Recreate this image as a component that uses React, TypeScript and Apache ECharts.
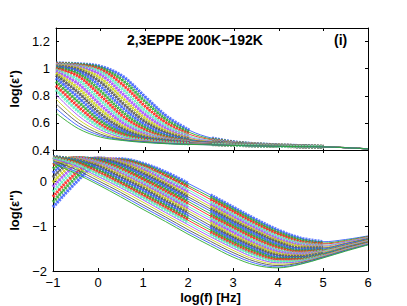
import React, { useEffect, useRef } from 'react';
import * as echarts from 'echarts';

// log10 frequency grid [Hz]
const LOG_F = [-1, -0.5, 0, 0.5, 1, 1.5, 2, 2.5, 3, 3.5, 4, 4.5, 5, 5.5, 6];

// log(eps') read per frequency (one column per LOG_F entry), 23 temperatures 200K -> 192K
const EPS1_COLS = [
  [1.040, 1.038, 1.034, 1.030, 1.027, 1.023, 1.018, 1.013, 1.007, 1.000, 0.991, 0.981, 0.968, 0.953, 0.931, 0.905, 0.875, 0.844, 0.810, 0.776, 0.741, 0.707, 0.673],
  [1.035, 1.031, 1.025, 1.020, 1.012, 1.004, 0.993, 0.981, 0.965, 0.944, 0.917, 0.888, 0.856, 0.823, 0.788, 0.754, 0.719, 0.686, 0.653, 0.626, 0.601, 0.578, 0.558],
  [1.016, 1.006, 0.993, 0.978, 0.956, 0.930, 0.900, 0.869, 0.835, 0.801, 0.766, 0.732, 0.698, 0.666, 0.637, 0.612, 0.588, 0.567, 0.548, 0.532, 0.517, 0.506, 0.495],
  [0.942, 0.913, 0.881, 0.848, 0.813, 0.779, 0.744, 0.711, 0.678, 0.649, 0.622, 0.598, 0.576, 0.556, 0.539, 0.524, 0.511, 0.500, 0.490, 0.482, 0.477, 0.473, 0.470],
  [0.791, 0.757, 0.723, 0.691, 0.661, 0.633, 0.608, 0.585, 0.565, 0.547, 0.531, 0.517, 0.505, 0.494, 0.486, 0.480, 0.475, 0.471, 0.469, 0.465, 0.461, 0.458, 0.455],
  [0.644, 0.618, 0.594, 0.573, 0.554, 0.537, 0.523, 0.510, 0.498, 0.489, 0.482, 0.476, 0.472, 0.469, 0.465, 0.461, 0.458, 0.455, 0.453, 0.451, 0.449, 0.448, 0.446],
  [0.544, 0.529, 0.515, 0.503, 0.492, 0.485, 0.478, 0.473, 0.469, 0.465, 0.461, 0.458, 0.455, 0.453, 0.451, 0.449, 0.448, 0.446, 0.445, 0.444, 0.443, 0.442, 0.441],
  [0.487, 0.480, 0.474, 0.469, 0.465, 0.461, 0.458, 0.455, 0.453, 0.451, 0.449, 0.448, 0.446, 0.445, 0.444, 0.443, 0.442, 0.441, 0.440, 0.439, 0.439, 0.438, 0.438],
  [0.459, 0.456, 0.453, 0.451, 0.449, 0.447, 0.446, 0.444, 0.443, 0.442, 0.441, 0.440, 0.439, 0.438, 0.437, 0.437, 0.436, 0.436, 0.435, 0.435, 0.434, 0.434, 0.433],
  [0.445, 0.444, 0.442, 0.441, 0.440, 0.439, 0.438, 0.437, 0.436, 0.435, 0.435, 0.434, 0.434, 0.433, 0.433, 0.432, 0.432, 0.431, 0.431, 0.431, 0.431, 0.430, 0.430],
  [0.437, 0.436, 0.435, 0.434, 0.433, 0.433, 0.432, 0.432, 0.431, 0.431, 0.430, 0.430, 0.429, 0.429, 0.429, 0.429, 0.428, 0.428, 0.428, 0.428, 0.428, 0.427, 0.427],
  [0.431, 0.430, 0.430, 0.429, 0.429, 0.428, 0.428, 0.427, 0.427, 0.427, 0.427, 0.426, 0.426, 0.426, 0.426, 0.426, 0.425, 0.425, 0.425, 0.425, 0.425, 0.425, 0.425],
  [0.426, 0.426, 0.425, 0.425, 0.425, 0.425, 0.424, 0.424, 0.424, 0.424, 0.424, 0.423, 0.423, 0.423, 0.423, 0.423, 0.423, 0.423, 0.423, 0.423, 0.423, 0.423, 0.423],
  [0.418, 0.418, 0.418, 0.418, 0.418, 0.418, 0.417, 0.417, 0.417, 0.417, 0.417, 0.417, 0.417, 0.417, 0.417, 0.417, 0.417, 0.417, 0.417, 0.417, 0.417, 0.417, 0.417],
  [0.409, 0.409, 0.409, 0.409, 0.409, 0.409, 0.409, 0.409, 0.408, 0.408, 0.408, 0.408, 0.408, 0.408, 0.408, 0.408, 0.408, 0.408, 0.408, 0.408, 0.408, 0.408, 0.408],
];

// log(eps'') read per frequency (one column per LOG_F entry)
const EPS2_COLS = [
  [-0.58, -0.47, -0.35, -0.24, -0.13, -0.03, 0.08, 0.18, 0.27, 0.36, 0.43, 0.49, 0.53, 0.54, 0.54, 0.53, 0.52, 0.51, 0.49, 0.47, 0.45, 0.42, 0.39],
  [-0.04, 0.07, 0.17, 0.26, 0.35, 0.42, 0.47, 0.51, 0.52, 0.52, 0.51, 0.50, 0.49, 0.47, 0.46, 0.44, 0.41, 0.38, 0.34, 0.30, 0.26, 0.21, 0.17],
  [0.40, 0.46, 0.50, 0.51, 0.51, 0.50, 0.49, 0.48, 0.46, 0.44, 0.42, 0.39, 0.36, 0.33, 0.29, 0.25, 0.20, 0.15, 0.10, 0.06, 0.01, -0.04, -0.08],
  [0.49, 0.47, 0.46, 0.44, 0.43, 0.41, 0.38, 0.35, 0.31, 0.27, 0.23, 0.18, 0.14, 0.09, 0.04, -0.01, -0.05, -0.10, -0.15, -0.20, -0.25, -0.30, -0.35],
  [0.39, 0.36, 0.33, 0.30, 0.26, 0.22, 0.17, 0.12, 0.07, 0.03, -0.02, -0.07, -0.11, -0.16, -0.21, -0.27, -0.32, -0.37, -0.42, -0.47, -0.53, -0.58, -0.63],
  [0.20, 0.15, 0.11, 0.06, 0.01, -0.04, -0.08, -0.13, -0.18, -0.23, -0.28, -0.33, -0.38, -0.44, -0.49, -0.54, -0.59, -0.64, -0.70, -0.75, -0.80, -0.85, -0.90],
  [-0.05, -0.10, -0.14, -0.19, -0.24, -0.30, -0.35, -0.40, -0.45, -0.50, -0.56, -0.61, -0.66, -0.71, -0.76, -0.82, -0.87, -0.92, -0.97, -1.02, -1.08, -1.13, -1.18],
  [-0.31, -0.36, -0.41, -0.47, -0.52, -0.57, -0.62, -0.67, -0.73, -0.78, -0.83, -0.88, -0.93, -0.99, -1.04, -1.09, -1.14, -1.19, -1.24, -1.29, -1.34, -1.39, -1.44],
  [-0.58, -0.63, -0.68, -0.74, -0.79, -0.84, -0.89, -0.94, -0.99, -1.04, -1.09, -1.14, -1.20, -1.25, -1.30, -1.35, -1.40, -1.44, -1.49, -1.54, -1.59, -1.64, -1.69],
  [-0.85, -0.90, -0.95, -1.00, -1.05, -1.10, -1.14, -1.19, -1.24, -1.29, -1.34, -1.39, -1.43, -1.48, -1.53, -1.57, -1.62, -1.66, -1.71, -1.75, -1.79, -1.83, -1.87],
  [-1.09, -1.14, -1.18, -1.23, -1.28, -1.32, -1.36, -1.41, -1.45, -1.49, -1.53, -1.57, -1.61, -1.65, -1.69, -1.72, -1.75, -1.79, -1.82, -1.85, -1.88, -1.91, -1.93],
  [-1.27, -1.31, -1.35, -1.38, -1.42, -1.45, -1.49, -1.52, -1.55, -1.58, -1.61, -1.63, -1.66, -1.68, -1.71, -1.73, -1.75, -1.77, -1.79, -1.81, -1.82, -1.84, -1.85],
  [-1.35, -1.38, -1.40, -1.43, -1.45, -1.47, -1.49, -1.51, -1.53, -1.55, -1.56, -1.58, -1.59, -1.61, -1.62, -1.63, -1.65, -1.66, -1.67, -1.68, -1.69, -1.70, -1.71],
  [-1.30, -1.32, -1.34, -1.35, -1.36, -1.38, -1.39, -1.40, -1.42, -1.43, -1.44, -1.45, -1.46, -1.47, -1.48, -1.49, -1.50, -1.51, -1.52, -1.53, -1.54, -1.55, -1.56],
  [-1.22, -1.23, -1.24, -1.25, -1.26, -1.27, -1.28, -1.29, -1.30, -1.31, -1.32, -1.33, -1.34, -1.35, -1.36, -1.36, -1.37, -1.38, -1.39, -1.40, -1.41, -1.41, -1.42],
];

const COLORS = ['#3a5cff', '#2eaa2e', '#ff2020', '#5ff0c0', '#a64cff', '#c8d21e', '#555555'];
const N_CURVES = 23;
const N_MARKED = 18; // curves that carry measured points (the rest are fit lines only)
const DATA_RANGES = [[-1, 2], [2.5, 5]];

const TITLE = '2,3EPPE 200K\u2212192K';
const PANEL_TAG = '(i)';

export default function App() {
  const ref = useRef<HTMLDivElement>(null);

  useEffect(() => {
    if (!ref.current) return;
    const chart = echarts.init(ref.current, null, { renderer: 'svg' });
    const font = 'Liberation Sans, Arial, Helvetica, sans-serif';

    const pts = (cols: number[][], i: number, lo: number, hi: number) =>
      LOG_F.map((x, k) => [x, cols[k][i]]).filter((p) => p[0] >= lo && p[0] <= hi);

    const series: any[] = [];
    for (let i = 0; i < N_CURVES; i++) {
      const color = COLORS[i % COLORS.length];
      const panels: [number[][], number][] = [
        [EPS1_COLS, 0],
        [EPS2_COLS, 1],
      ];
      panels.forEach(([cols, g]) => {
        if (i < N_MARKED) {
          DATA_RANGES.forEach(([lo, hi]) => {
            series.push({
              type: 'line',
              xAxisIndex: g * 2,
              yAxisIndex: g * 2,
              data: pts(cols, i, lo, hi),
              smooth: 0.35,
              symbol: 'none',
              silent: true,
              lineStyle: { color, width: 3.5, opacity: 0.8, type: [2, 1] },
            });
          });
        }
        series.push({
          type: 'line',
          xAxisIndex: g * 2,
          yAxisIndex: g * 2,
          data: pts(cols, i, -1, 6),
          smooth: 0.35,
          symbol: 'none',
          silent: true,
          lineStyle: { color, width: 0.9 },
        });
      });
    }

    const fmt = (v: number) => String(v).replace('-', '\u2212');
    const axisLine = { show: true, onZero: false, lineStyle: { color: '#000', width: 1 } };
    const tick = { show: true, inside: true, length: 3, lineStyle: { color: '#000', width: 1 } };
    const xBase = {
      type: 'value',
      min: -1,
      max: 6,
      interval: 1,
      splitLine: { show: false },
      axisLine,
      axisTick: tick,
    };
    const label = { color: '#000', fontFamily: font, fontSize: 13 };
    const yName = { color: '#000', fontFamily: font, fontSize: 13, fontWeight: 'bold' };

    chart.setOption({
      animation: false,
      backgroundColor: '#fff',
      grid: [
        { left: 53, right: 39, top: 28, height: 122 },
        { left: 53, right: 39, top: 150, height: 121 },
      ],
      xAxis: [
        { ...xBase, gridIndex: 0, position: 'bottom', axisLabel: { show: false } },
        { ...xBase, gridIndex: 0, position: 'top', axisLabel: { show: false } },
        {
          ...xBase,
          gridIndex: 1,
          position: 'bottom',
          axisLabel: { ...label, margin: 5, formatter: fmt },
          name: 'log(f) [Hz]',
          nameLocation: 'middle',
          nameGap: 20,
          nameTextStyle: yName,
        },
        { ...xBase, gridIndex: 1, position: 'top', axisLabel: { show: false } },
      ],
      yAxis: [
        {
          type: 'value',
          gridIndex: 0,
          position: 'left',
          min: 0.4,
          max: 1.3,
          interval: 0.2,
          splitLine: { show: false },
          axisLine,
          axisTick: tick,
          axisLabel: { ...label, margin: 6, showMaxLabel: false, formatter: fmt },
          name: "log(\u03b5')",
          nameLocation: 'middle',
          nameGap: 31,
          nameRotate: 90,
          nameTextStyle: yName,
        },
        {
          type: 'value',
          gridIndex: 0,
          position: 'right',
          min: 0.4,
          max: 1.3,
          interval: 0.2,
          splitLine: { show: false },
          axisLine,
          axisTick: tick,
          axisLabel: { show: false },
        },
        {
          type: 'value',
          gridIndex: 1,
          position: 'left',
          min: -2,
          max: 0.69,
          interval: 1,
          splitLine: { show: false },
          axisLine,
          axisTick: tick,
          axisLabel: { ...label, margin: 6, showMaxLabel: false, formatter: fmt },
          name: "log(\u03b5'')",
          nameLocation: 'middle',
          nameGap: 31,
          nameRotate: 90,
          nameTextStyle: yName,
        },
        {
          type: 'value',
          gridIndex: 1,
          position: 'right',
          min: -2,
          max: 0.69,
          interval: 1,
          splitLine: { show: false },
          axisLine,
          axisTick: tick,
          axisLabel: { show: false },
        },
      ],
      graphic: [
        {
          type: 'text',
          left: 127,
          top: 33,
          silent: true,
          style: { text: TITLE, fill: '#000', font: `bold 14px ${font}` },
        },
        {
          type: 'text',
          left: 334,
          top: 33,
          silent: true,
          style: { text: PANEL_TAG, fill: '#000', font: `bold 14px ${font}` },
        },
      ],
      series,
    });

    return () => chart.dispose();
  }, []);

  return (
    <div
      ref={ref}
      style={{ position: 'absolute', left: 0, top: 0, width: 407, height: 306, background: '#fff' }}
    />
  );
}
